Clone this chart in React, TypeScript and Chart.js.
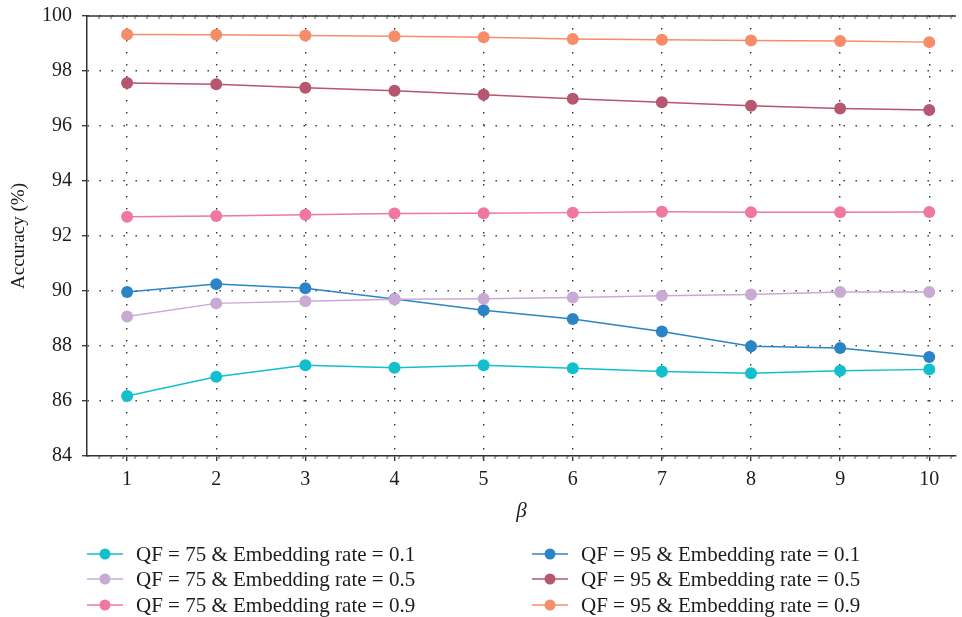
import React, { useEffect, useRef } from "react";
import { Chart, registerables } from "chart.js";

Chart.register(...registerables);

const betaValues = [1, 2, 3, 4, 5, 6, 7, 8, 9, 10];
const yTickValues = [84, 86, 88, 90, 92, 94, 96, 98, 100];

const qf75r01 = [86.18, 86.88, 87.3, 87.21, 87.3, 87.19, 87.07, 87.01, 87.1, 87.15];
const qf75r05 = [89.07, 89.55, 89.63, 89.7, 89.72, 89.76, 89.83, 89.87, 89.96, 89.96];
const qf75r09 = [92.7, 92.73, 92.77, 92.82, 92.83, 92.85, 92.88, 92.86, 92.86, 92.87];
const qf95r01 = [89.96, 90.25, 90.1, 89.71, 89.3, 88.98, 88.53, 87.99, 87.93, 87.6];
const qf95r05 = [97.56, 97.52, 97.39, 97.28, 97.14, 96.99, 96.86, 96.74, 96.64, 96.58];
const qf95r09 = [99.33, 99.32, 99.29, 99.26, 99.23, 99.16, 99.14, 99.11, 99.09, 99.05];

const seriesLabels = [
  "QF = 75 & Embedding rate = 0.1",
  "QF = 75 & Embedding rate = 0.5",
  "QF = 75 & Embedding rate = 0.9",
  "QF = 95 & Embedding rate = 0.1",
  "QF = 95 & Embedding rate = 0.5",
  "QF = 95 & Embedding rate = 0.9",
];
const seriesValues = [qf75r01, qf75r05, qf75r09, qf95r01, qf95r05, qf95r09];
const seriesColors = ["#12bfcc", "#c9aad4", "#f0779e", "#2b84c6", "#b6566f", "#f68d68"];

const FONT = "'Liberation Serif', 'DejaVu Serif', serif";
const TEXT = "#1c1c1c";

const framePlugin = {
  id: "frame",
  afterDraw(chart: any) {
    const ctx = chart.ctx;
    const a = chart.chartArea;
    ctx.save();
    ctx.strokeStyle = "#333";
    ctx.lineWidth = 1.5;
    ctx.beginPath();
    ctx.moveTo(a.left, a.top);
    ctx.lineTo(a.right, a.top);
    ctx.stroke();
    ctx.lineWidth = 1;
    ctx.strokeStyle = "#555";
    for (let x = a.left + 12; x < a.right; x += 12) {
      ctx.beginPath();
      ctx.moveTo(x, a.top);
      ctx.lineTo(x, a.top + 3);
      ctx.stroke();
      ctx.beginPath();
      ctx.moveTo(x, a.bottom);
      ctx.lineTo(x, a.bottom + 3);
      ctx.stroke();
    }
    ctx.restore();

    // legend
    ctx.save();
    const rows = [554, 579, 605];
    const cols = [87, 532];
    ctx.font = `21px ${FONT}`;
    ctx.textBaseline = "middle";
    chart.data.datasets.forEach((ds: any, i: number) => {
      const col = cols[Math.floor(i / 3)];
      const y = rows[i % 3];
      ctx.strokeStyle = ds.borderColor;
      ctx.lineWidth = 1.5;
      ctx.beginPath();
      ctx.moveTo(col, y);
      ctx.lineTo(col + 36, y);
      ctx.stroke();
      ctx.fillStyle = ds.backgroundColor;
      ctx.beginPath();
      ctx.arc(col + 18, y, 5.5, 0, Math.PI * 2);
      ctx.fill();
      ctx.fillStyle = TEXT;
      ctx.textAlign = "left";
      ctx.fillText(ds.label, col + 49, y + 1);
    });
    ctx.restore();
  },
};

export default function App() {
  const canvasRef = useRef<HTMLCanvasElement | null>(null);

  useEffect(() => {
    document.body.style.margin = "0";
    const canvas = canvasRef.current;
    if (!canvas) return;
    const gridCommon = {
      color: "#333",
      lineWidth: 1.4,
      drawTicks: true,
      tickLength: 5,
      tickColor: "#333",
      tickWidth: 1.3,
      tickBorderDash: [],
    };
    const chart = new Chart(canvas, {
      type: "line",
      data: {
        datasets: seriesValues.map((vals, i) => ({
          label: seriesLabels[i],
          data: betaValues.map((b, j) => ({ x: b, y: vals[j] })),
          borderColor: seriesColors[i],
          backgroundColor: seriesColors[i],
          pointBackgroundColor: seriesColors[i],
          pointBorderWidth: 0,
          pointRadius: 6,
          borderWidth: 1.5,
          tension: 0,
        })),
      },
      options: {
        animation: false,
        responsive: false,
        maintainAspectRatio: false,
        layout: { padding: { left: 0, top: 16, right: 2, bottom: 91 } },
        plugins: {
          legend: { display: false },
          tooltip: { enabled: false },
        },
        scales: {
          x: {
            type: "linear",
            min: 0.55,
            max: 10.3,
            afterBuildTicks: (scale: any) => {
              scale.ticks = betaValues.map((v) => ({ value: v }));
            },
            afterFit: (scale: any) => {
              scale.height = 70;
              scale.paddingLeft = 0;
              scale.paddingRight = 0;
            },
            ticks: {
              font: { family: FONT, size: 20 },
              color: TEXT,
              padding: 7,
              maxRotation: 0,
              autoSkip: false,
            },
            grid: gridCommon,
            border: { display: true, color: "#333", width: 1.5, dash: [1.4, 10.6] },
            title: {
              display: true,
              text: "β",
              font: { family: FONT, size: 21, style: "italic" },
              color: TEXT,
              padding: { top: 8, bottom: 2 },
            },
          },
          y: {
            type: "linear",
            min: 84,
            max: 100,
            afterBuildTicks: (scale: any) => {
              scale.ticks = yTickValues.map((v) => ({ value: v }));
            },
            afterFit: (scale: any) => {
              scale.width = 87;
              scale.paddingTop = 0;
              scale.paddingBottom = 0;
            },
            ticks: {
              font: { family: FONT, size: 20 },
              color: TEXT,
              padding: 10,
            },
            grid: gridCommon,
            border: { display: true, color: "#333", width: 1.5, dash: [1.4, 10.6] },
            title: {
              display: true,
              text: "Accuracy (%)",
              font: { family: FONT, size: 19 },
              color: TEXT,
              padding: { top: 8, bottom: 0 },
            },
          },
        },
      },
      plugins: [framePlugin],
    });
    return () => chart.destroy();
  }, []);

  return (
    <div style={{ width: 962, height: 617 }}>
      <canvas ref={canvasRef} width={962} height={617} style={{ display: "block" }} />
    </div>
  );
}
